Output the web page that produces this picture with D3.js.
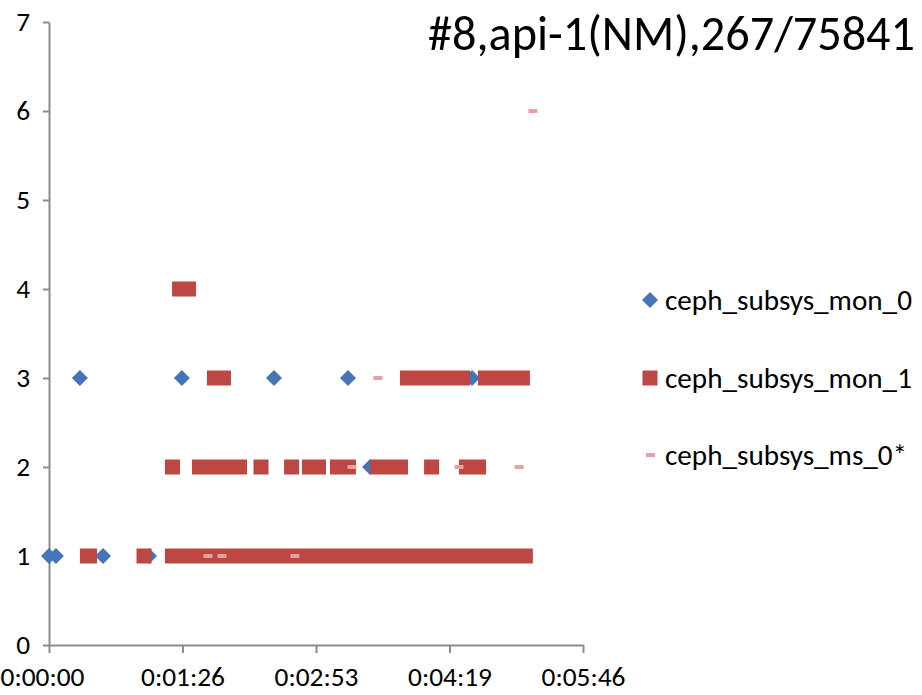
<!DOCTYPE html>
<html><head><meta charset="utf-8">
<script src="https://cdn.jsdelivr.net/npm/d3@7"></script>
<style>body{margin:0;background:#fff}svg{display:block}</style></head>
<body>
<svg id="c" width="922" height="695"></svg>
<script>
const titleText = "#8,api-1(NM),267/75841";
const seriesNames = ["ceph_subsys_mon_0", "ceph_subsys_mon_1", "ceph_subsys_ms_0*"];
const xTickSeconds = [0, 86.4, 172.8, 259.2, 345.6];
const xTickLabels = ["0:00:00", "0:01:26", "0:02:53", "0:04:19", "0:05:46"];
const yTicks = [0, 1, 2, 3, 4, 5, 6, 7];

// ceph_subsys_mon_0 points (seconds, value)
const mon0Time  = [0, 4.5, 35, 64.7, 20, 86, 145.6, 193.5, 273.8, 207.8];
const mon0Value = [1, 1, 1, 1, 3, 3, 3, 3, 3, 2];

// ceph_subsys_mon_1 runs of consecutive samples (value, first sample, last sample in seconds)
const mon1Value = [1, 1, 1, 2, 2, 2, 2, 2, 2, 2, 2, 2, 3, 3, 3, 4];
const mon1Start = [24.9, 61.5, 79.9, 79.9, 97.4, 137.2, 157, 168.6, 186.7, 212.6, 247.6, 270.2, 107.1, 232, 282.5, 84.5];
const mon1End   = [26.2, 61.5, 308.3, 79.9, 123.3, 137.2, 157, 174.4, 193.8, 227.5, 247.6, 278, 112.9, 267.6, 306.4, 90.3];

// ceph_subsys_ms_0* points
const ms0Time  = [102.9, 112, 159.2, 196.1, 265.4, 304.2, 212.9, 313.2];
const ms0Value = [1, 1, 1, 2, 2, 2, 3, 6];

const colors = ["#4674B8", "#BC4743", "#E3A3A2"];
const font = "Carlito, Lato, 'Open Sans', sans-serif";

const svg = d3.select("#c");
const x = d3.scaleLinear().domain([0, 345.6]).range([49, 583]);
const y = d3.scaleLinear().domain([0, 7]).range([645, 22]);

function fit(sel, target) {
  const w = sel.node().getComputedTextLength();
  const fs = parseFloat(sel.attr("font-size"));
  const nf = fs * target / w;
  sel.attr("font-size", nf);
  return nf;
}

// axes
const axisColor = "#8C8C8C";
const yAxis = svg.append("g").attr("transform", "translate(49,0)")
  .call(d3.axisLeft(y).tickValues(yTicks).tickSize(6).tickSizeOuter(0).tickFormat(d3.format("d")));
const xAxis = svg.append("g").attr("transform", "translate(0,645)")
  .call(d3.axisBottom(x).tickValues(xTickSeconds).tickSize(8).tickSizeOuter(0).tickFormat((d, i) => xTickLabels[i]));
[yAxis, xAxis].forEach(g => {
  g.select(".domain").attr("stroke", axisColor).attr("stroke-width", 2);
  g.selectAll(".tick line").attr("stroke", axisColor).attr("stroke-width", 2);
  g.selectAll("text").attr("font-family", font).attr("fill", "#000").attr("font-size", 24);
});
const xs = fit(xAxis.select(".tick:nth-of-type(2) text"), 84);
xAxis.selectAll("text").attr("font-size", xs).attr("y", 22).attr("dy", "0.71em");
yAxis.selectAll("text").attr("font-size", xs).attr("x", -19);
xAxis.selectAll(".tick").filter((d, i) => i === 0).select("text").attr("dx", -7);

// mon_0 diamonds
const diamond = "M0,-8L8,0L0,8L-8,0Z";
svg.append("g").selectAll("path").data(mon0Time).join("path")
  .attr("d", diamond)
  .attr("transform", (d, i) => `translate(${x(d)},${y(mon0Value[i])})`)
  .attr("fill", colors[0]);

// mon_1 squares (runs of overlapping square markers)
const half = 7.5;
svg.append("g").selectAll("rect").data(mon1Value).join("rect")
  .attr("x", (d, i) => x(mon1Start[i]) - half)
  .attr("width", (d, i) => x(mon1End[i]) - x(mon1Start[i]) + 2 * half)
  .attr("y", d => y(d) - half)
  .attr("height", 2 * half)
  .attr("fill", colors[1]);

// ms_0 dashes
svg.append("g").selectAll("rect").data(ms0Time).join("rect")
  .attr("x", d => x(d) - 4.5)
  .attr("y", (d, i) => y(ms0Value[i]) - 2)
  .attr("width", 9).attr("height", 4)
  .attr("fill", colors[2]);

// title
const t = svg.append("text").attr("x", 915).attr("y", 50).attr("text-anchor", "end")
  .attr("font-family", font).attr("font-size", 40).attr("fill", "#000").text(titleText);
fit(t, 487);

// legend
const legY = [300, 378, 455];
const lg = svg.append("g");
lg.append("path").attr("d", diamond).attr("transform", `translate(650,${legY[0]})`).attr("fill", colors[0]);
lg.append("rect").attr("x", 650 - half).attr("y", legY[1] - half).attr("width", 2 * half).attr("height", 2 * half).attr("fill", colors[1]);
lg.append("rect").attr("x", 646).attr("y", legY[2] - 2).attr("width", 9).attr("height", 4).attr("fill", colors[2]);
const lt = lg.selectAll("text").data(seriesNames).join("text")
  .attr("x", 665).attr("y", (d, i) => legY[i]).attr("dy", "0.35em")
  .attr("font-family", font).attr("font-size", 22).attr("fill", "#000").text(d => d);
const ls = fit(lt.filter((d, i) => i === 0), 247);
lt.attr("font-size", ls);
</script>
</body></html>
